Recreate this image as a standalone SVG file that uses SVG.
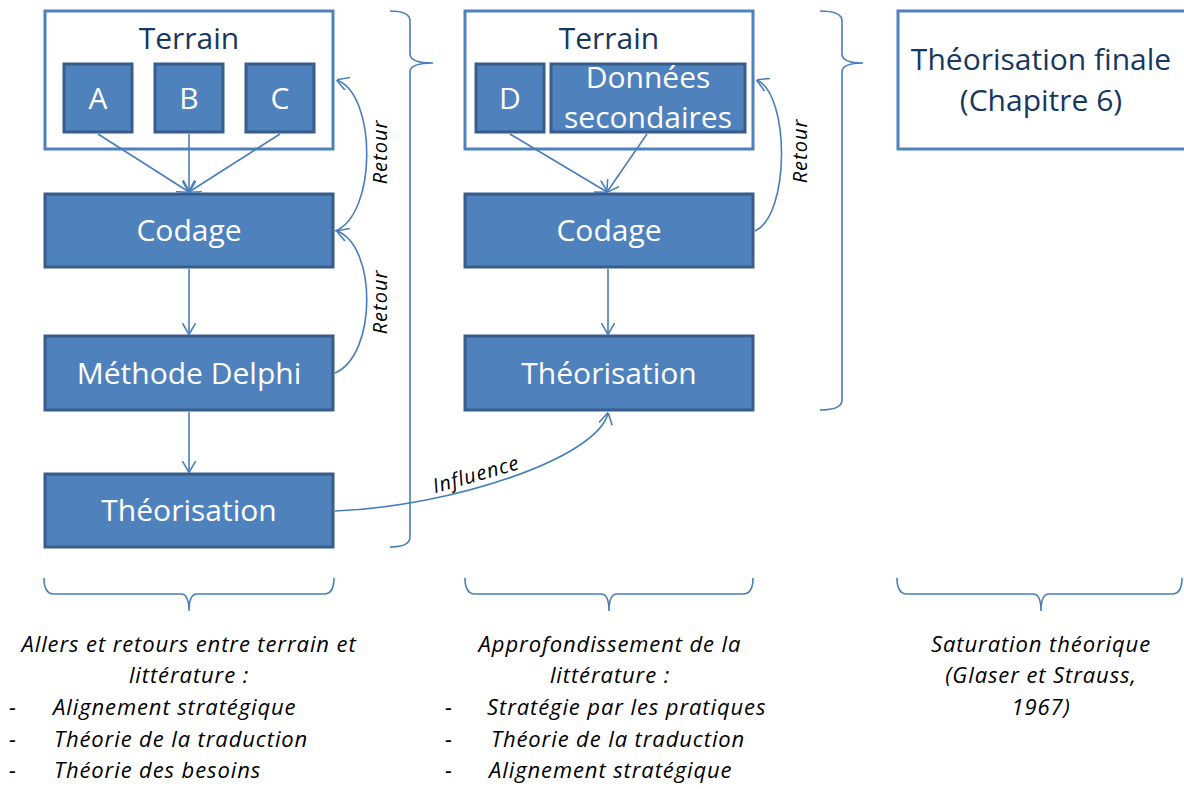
<svg xmlns="http://www.w3.org/2000/svg" width="1184" height="789" viewBox="0 0 1184 789">
<style>
.box{fill:#4F81BD;stroke:#385D8A;stroke-width:3}
.frame{fill:#FFFFFF;stroke:#4F81BD;stroke-width:3}
.lbl{font-family:"Open Sans","Liberation Sans",sans-serif;font-size:30px;fill:#FFFFFF;text-anchor:middle}
.dark{fill:#17375E}
.conn{fill:none;stroke:#4A7EBB;stroke-width:1.6}
.brace{fill:none;stroke:#4A7EBB;stroke-width:1.6}
.note{font-family:"Open Sans","Liberation Sans",sans-serif;font-style:italic;font-size:20px;letter-spacing:1px;fill:#000000;text-anchor:middle}
.cap{font-family:"Open Sans","Liberation Sans",sans-serif;font-style:italic;font-size:22px;letter-spacing:0.9px;fill:#000000}
.mid{text-anchor:middle}
</style>
<defs>
<marker id="arr" viewBox="0 0 12 14" refX="11.5" refY="7" markerWidth="12" markerHeight="14" markerUnits="userSpaceOnUse" orient="auto">
<path d="M0,0 L12,7 L0,14" fill="none" stroke="#4A7EBB" stroke-width="1.6"/>
</marker>
</defs>

<g id="terrain1">
<rect class="frame" x="45" y="11" width="288" height="138"/>
<text class="lbl dark" x="189" y="49">Terrain</text>
</g>
<g id="nodeA"><rect class="box" x="64" y="64" width="68" height="68"/><text class="lbl" x="98" y="109">A</text></g>
<g id="nodeB"><rect class="box" x="155" y="64" width="68" height="68"/><text class="lbl" x="189" y="109">B</text></g>
<g id="nodeC"><rect class="box" x="246" y="64" width="68" height="68"/><text class="lbl" x="280" y="109">C</text></g>
<g id="codage1"><rect class="box" x="45" y="194" width="288" height="73"/><text class="lbl" x="189" y="241">Codage</text></g>
<g id="delphi"><rect class="box" x="45" y="336" width="288" height="74"/><text class="lbl" x="189" y="384">Méthode Delphi</text></g>
<g id="theo1"><rect class="box" x="45" y="474" width="288" height="73"/><text class="lbl" x="189" y="521">Théorisation</text></g>

<g id="terrain2">
<rect class="frame" x="465" y="11" width="288" height="138"/>
<text class="lbl dark" x="609" y="49">Terrain</text>
</g>
<g id="nodeD"><rect class="box" x="476" y="64" width="68" height="68"/><text class="lbl" x="510" y="109">D</text></g>
<g id="donnees"><rect class="box" x="551" y="64" width="194" height="68"/><text class="lbl" x="648" y="88">Données</text><text class="lbl" x="648" y="128">secondaires</text></g>
<g id="codage2"><rect class="box" x="465" y="194" width="288" height="73"/><text class="lbl" x="609" y="241">Codage</text></g>
<g id="theo2"><rect class="box" x="465" y="336" width="288" height="74"/><text class="lbl" x="609" y="384">Théorisation</text></g>

<g id="final">
<rect class="frame" x="898" y="11" width="290" height="138"/>
<text class="lbl dark" x="1041" y="70">Théorisation finale</text>
<text class="lbl dark" x="1041" y="111">(Chapitre 6)</text>
</g>

<g id="connectors">
<path class="conn" d="M98 134 L189 192" marker-end="url(#arr)"/>
<path class="conn" d="M189 134 L189 192" marker-end="url(#arr)"/>
<path class="conn" d="M280 134 L189 192" marker-end="url(#arr)"/>
<path class="conn" d="M189 269 L189 334" marker-end="url(#arr)"/>
<path class="conn" d="M189 412 L189 472" marker-end="url(#arr)"/>
<path class="conn" d="M510 134 L607 192" marker-end="url(#arr)"/>
<path class="conn" d="M647 134 L607 192" marker-end="url(#arr)"/>
<path class="conn" d="M608 269 L608 334" marker-end="url(#arr)"/>
<path class="conn" d="M335 231 C377 215, 377 95, 337 80" marker-end="url(#arr)"/>
<path class="conn" d="M335 373 C377 355, 377 246, 337 231" marker-end="url(#arr)"/>
<path class="conn" d="M755 231 C790 215, 790 95, 757 80" marker-end="url(#arr)"/>
<path class="conn" d="M335 511 C450 507, 598 458, 608 413" marker-end="url(#arr)"/>
<text class="note" transform="translate(387,152) rotate(-90)">Retour</text>
<text class="note" transform="translate(387,302) rotate(-90)">Retour</text>
<text class="note" transform="translate(807,151) rotate(-90)">Retour</text>
<text class="note" transform="translate(478,481) rotate(-16)">Influence</text>
</g>

<g id="braces">
<path class="brace" d="M390 11 Q410 11 410 21 L410 54 Q410 63 433 63 Q410 63 410 72 L410 537 Q410 547 390 547"/>
<path class="brace" d="M820 11 Q842 11 842 21 L842 54 Q842 63 863 63 Q842 63 842 72 L842 400 Q842 410 820 410"/>
<path class="brace" d="M44 578 Q44 594 54 594 L181 594 Q189 594 189 611 Q189 594 197 594 L324 594 Q334 594 334 578"/>
<path class="brace" d="M465 578 Q465 594 475 594 L601 594 Q609 594 609 611 Q609 594 617 594 L743 594 Q753 594 753 578"/>
<path class="brace" d="M897 578 Q897 594 907 594 L1033 594 Q1041 594 1041 611 Q1041 594 1049 594 L1172 594 Q1182 594 1182 578"/>
</g>

<g id="captions">
<text class="cap mid" x="189" y="652">Allers et retours entre terrain et</text>
<text class="cap mid" x="189" y="683">littérature :</text>
<text class="cap" x="9" y="715">-</text><text class="cap" x="53" y="715">Alignement stratégique</text>
<text class="cap" x="9" y="747">-</text><text class="cap" x="54" y="747">Théorie de la traduction</text>
<text class="cap" x="9" y="778">-</text><text class="cap" x="54" y="778">Théorie des besoins</text>

<text class="cap mid" x="610" y="652">Approfondissement de la</text>
<text class="cap mid" x="610" y="683">littérature :</text>
<text class="cap" x="445" y="715">-</text><text class="cap" x="487" y="715">Stratégie par les pratiques</text>
<text class="cap" x="445" y="747">-</text><text class="cap" x="491" y="747">Théorie de la traduction</text>
<text class="cap" x="445" y="778">-</text><text class="cap" x="489" y="778">Alignement stratégique</text>

<text class="cap mid" x="1041" y="652">Saturation théorique</text>
<text class="cap mid" x="1041" y="683">(Glaser et Strauss,</text>
<text class="cap mid" x="1041" y="715">1967)</text>
</g>
</svg>
